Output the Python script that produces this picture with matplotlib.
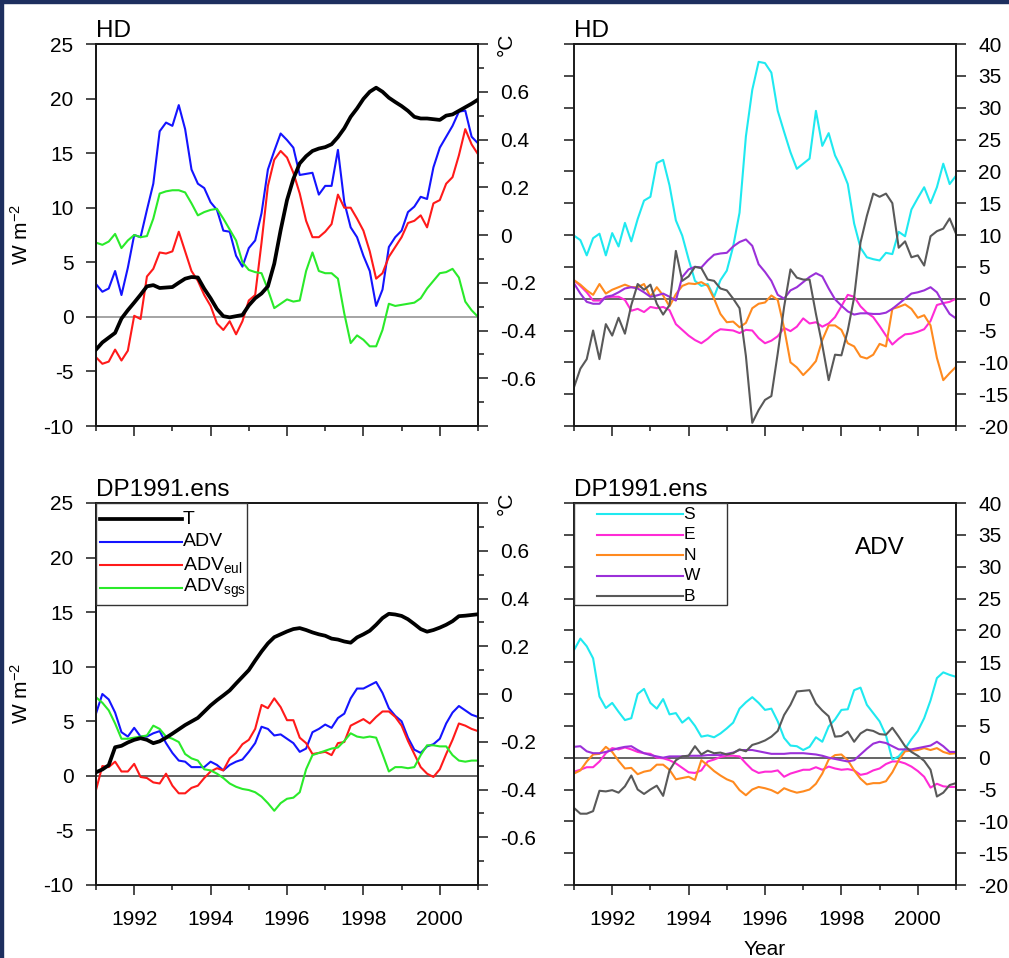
import numpy as np
import matplotlib
matplotlib.use("Agg")
import matplotlib.pyplot as plt
from matplotlib.lines import Line2D
from matplotlib.patches import Rectangle
from matplotlib.ticker import FixedLocator, FixedFormatter, MultipleLocator

plt.rcParams["font.family"] = ["Liberation Sans", "DejaVu Sans"]
plt.rcParams["mathtext.fontset"] = "custom"
plt.rcParams["mathtext.rm"] = "Liberation Sans"
plt.rcParams["mathtext.it"] = "Liberation Sans"
plt.rcParams["axes.unicode_minus"] = False

# ---------------------------------------------------------------------------
# Data: 2-monthly samples, Jan 1991 - Jan 2001
# ---------------------------------------------------------------------------
time = 1991 + np.arange(61) / 6.0

# HD run: heat budget terms (W m-2) and temperature anomaly (degC)
hd_adv = [3.0, 2.3, 2.6, 4.2, 2.0, 4.5, 7.5, 7.3, 9.8, 12.2,
          17.0, 17.8, 17.5, 19.4, 17.2, 13.5, 12.2, 11.8, 10.5, 9.8,
          7.9, 7.8, 5.6, 4.6, 6.3, 7.0, 9.5, 13.5, 15.2, 16.8,
          16.2, 15.5, 13.0, 13.1, 13.2, 11.2, 12.0, 12.0, 15.3, 10.5,
          8.2, 7.3, 5.6, 4.2, 1.0, 2.5, 6.4, 7.3, 7.9, 9.6,
          10.1, 11.0, 10.8, 13.7, 15.5, 16.5, 17.5, 18.8, 18.9, 16.5, 15.9]
hd_eul = [-3.7, -4.3, -4.1, -3.0, -4.0, -3.1, 0.1, -0.2, 3.7, 4.4,
          5.9, 5.8, 6.0, 7.8, 6.0, 4.2, 3.3, 2.0, 1.0, -0.6,
          -1.2, -0.4, -1.6, -0.4, 1.5, 2.0, 6.8, 12.0, 14.4, 15.2,
          14.6, 13.2, 11.3, 8.8, 7.3, 7.3, 7.8, 8.5, 11.2, 10.0,
          10.0, 9.0, 7.9, 6.0, 3.5, 4.0, 5.5, 6.4, 7.3, 8.6,
          8.8, 9.3, 8.2, 10.4, 10.7, 12.2, 12.8, 14.8, 17.2, 15.8, 14.9]
hd_sgs = [6.8, 6.6, 6.9, 7.6, 6.3, 7.0, 7.5, 7.3, 7.4, 9.0,
          11.3, 11.5, 11.6, 11.6, 11.4, 10.4, 9.3, 9.6, 9.8, 9.9,
          9.0, 8.0, 7.0, 5.0, 4.3, 4.1, 4.0, 2.5, 0.8, 1.2,
          1.6, 1.4, 1.5, 4.2, 5.9, 4.2, 4.0, 4.0, 3.5, 0.3,
          -2.4, -1.7, -2.1, -2.7, -2.7, -1.2, 1.2, 1.0, 1.1, 1.2,
          1.3, 1.7, 2.6, 3.3, 4.0, 4.1, 4.4, 3.6, 1.4, 0.6, 0.0]
hd_temp = [-0.48, -0.45, -0.43, -0.41, -0.35, -0.315, -0.283, -0.25, -0.215, -0.21,
           -0.222, -0.22, -0.218, -0.20, -0.183, -0.176, -0.178, -0.225, -0.265, -0.31,
           -0.34, -0.345, -0.34, -0.335, -0.295, -0.265, -0.245, -0.215, -0.12, 0.02,
           0.146, 0.235, 0.30, 0.33, 0.352, 0.362, 0.368, 0.38, 0.41, 0.447,
           0.495, 0.53, 0.57, 0.60, 0.617, 0.60, 0.575, 0.557, 0.54, 0.52,
           0.495, 0.488, 0.488, 0.485, 0.482, 0.50, 0.505, 0.52, 0.535, 0.55, 0.567]

# HD run: advective heat flux through each face of the box (W m-2)
hd_s = [9.9, 9.2, 6.8, 9.5, 10.2, 6.8, 10.3, 8.2, 11.9, 9.0,
        12.5, 15.4, 16.0, 21.3, 21.8, 17.8, 12.3, 9.9, 6.2, 2.8,
        2.0, 2.3, 0.3, 2.9, 4.4, 8.2, 13.5, 25.5, 32.8, 37.2,
        37.0, 35.5, 29.5, 26.2, 23.0, 20.4, 21.2, 22.0, 29.5, 24.0,
        26.0, 22.5, 20.5, 18.0, 11.8, 8.0, 6.5, 6.2, 6.0, 7.2,
        7.0, 10.5, 9.8, 14.0, 15.8, 17.5, 15.0, 17.5, 21.2, 18.0, 19.3]
hd_e = [2.9, 2.0, 1.0, -0.3, -0.3, 0.2, 0.3, 0.3, -0.2, -1.9,
        -1.6, -2.1, -1.3, -1.5, -1.3, -1.8, -4.0, -4.9, -5.8, -6.5,
        -7.0, -6.3, -5.4, -4.8, -4.9, -5.0, -5.4, -4.9, -5.0, -6.2,
        -7.0, -6.6, -5.9, -4.6, -5.1, -4.4, -3.1, -3.9, -3.7, -4.4,
        -3.9, -2.9, -1.2, 0.6, 0.3, -1.2, -2.2, -2.9, -4.3, -5.8,
        -7.2, -6.3, -5.6, -5.5, -5.2, -4.8, -3.5, -1.0, -0.7, -0.5, 0.0]
hd_n = [2.9, 2.2, 1.3, 0.6, 2.3, 0.8, 1.4, 1.8, 2.2, 1.8,
        1.8, 2.3, 0.3, 1.8, 0.5, -1.2, 0.7, 2.0, 2.4, 2.3,
        2.6, 2.0, 0.0, -2.4, -3.7, -3.6, -4.5, -3.8, -1.5, -0.8,
        -0.6, 0.5, -0.2, -4.6, -10.0, -10.8, -12.0, -11.0, -9.8, -6.5,
        -4.2, -4.2, -4.9, -7.0, -7.5, -9.1, -9.4, -8.8, -7.1, -7.5,
        -1.6, -1.3, -0.9, -1.6, -3.0, -2.6, -4.2, -9.3, -12.8, -11.7, -10.7]
hd_w = [2.4, 0.8, -0.5, -0.8, -0.8, 0.3, 0.5, 1.0, 1.6, 1.8,
        1.6, 1.0, 0.3, 0.5, 0.8, 0.3, -0.3, 3.4, 4.6, 5.0,
        4.9, 6.0, 6.9, 7.1, 7.2, 8.2, 8.9, 9.3, 8.3, 5.4,
        4.2, 2.8, 0.6, 0.0, 1.3, 1.8, 2.6, 3.4, 4.0, 3.5,
        1.6, -0.1, -1.1, -2.0, -2.5, -2.3, -2.3, -2.4, -2.4, -2.2,
        -1.6, -0.8, 0.0, 0.8, 1.0, 1.3, 1.8, 1.0, -0.8, -2.4, -3.1]
hd_b = [-13.9, -11.0, -9.5, -5.0, -9.5, -4.0, -5.8, -3.0, -5.5, -1.0,
        2.3, 1.4, 2.2, -0.8, -2.5, -1.0, 7.5, 2.8, 3.5, 5.0,
        4.8, 3.0, 2.8, 1.6, 1.3, 0.0, -1.5, -9.0, -19.5, -17.5,
        -15.9, -15.3, -8.6, -1.3, 4.6, 3.3, 3.0, 3.0, -2.4, -7.3,
        -12.8, -8.8, -8.9, -5.0, 0.2, 8.8, 13.0, 16.5, 16.0, 16.5,
        15.0, 8.0, 9.0, 6.5, 6.8, 5.2, 9.8, 10.6, 11.0, 12.6, 10.2]

# DP1991 ensemble: heat budget terms (W m-2) and temperature anomaly (degC)
dp_adv = [5.7, 7.5, 7.0, 5.8, 4.0, 3.6, 4.4, 3.6, 3.6, 3.9,
          4.1, 3.0, 2.1, 1.4, 1.3, 0.8, 0.8, 0.8, 1.3, 1.0,
          0.5, 1.0, 1.3, 1.5, 2.2, 3.0, 4.5, 4.3, 3.7, 3.8,
          3.4, 3.0, 2.2, 2.5, 4.0, 4.3, 4.7, 4.4, 5.3, 5.7,
          7.1, 8.0, 8.0, 8.3, 8.6, 7.6, 6.2, 5.5, 5.0, 3.5,
          2.4, 2.1, 2.7, 2.9, 3.4, 4.8, 5.8, 6.4, 6.0, 5.6, 5.4]
dp_eul = [-1.3, 0.9, 0.8, 1.3, 0.4, 0.4, 1.1, -0.1, -0.2, -0.6,
          -0.7, 0.2, -0.9, -1.6, -1.6, -1.1, -0.9, -0.2, 0.4, 0.7,
          0.5, 1.6, 2.1, 2.9, 3.3, 4.3, 6.5, 6.2, 7.1, 6.3,
          5.1, 5.1, 3.5, 3.0, 2.0, 2.1, 2.2, 1.9, 3.0, 3.1,
          4.6, 4.9, 5.2, 4.8, 5.4, 5.9, 5.9, 5.4, 4.6, 3.2,
          2.0, 0.8, 0.2, -0.1, 0.6, 2.0, 3.3, 4.8, 4.6, 4.3, 4.1]
dp_sgs = [7.2, 6.7, 6.0, 4.8, 3.4, 3.4, 3.5, 3.6, 3.7, 4.6,
          4.3, 3.6, 3.4, 3.1, 2.0, 1.6, 1.4, 0.6, 0.5, 0.2,
          -0.2, -0.7, -1.0, -1.2, -1.3, -1.5, -1.9, -2.5, -3.2, -2.5,
          -2.1, -2.0, -1.5, 0.6, 1.9, 2.1, 2.3, 2.5, 2.6, 3.2,
          3.9, 3.6, 3.5, 3.6, 3.5, 2.0, 0.4, 0.8, 0.8, 0.7,
          0.8, 1.9, 2.8, 2.8, 2.7, 2.7, 1.9, 1.4, 1.3, 1.4, 1.4]
dp_temp = [-0.328, -0.316, -0.298, -0.223, -0.217, -0.203, -0.192, -0.185, -0.192, -0.206,
           -0.198, -0.183, -0.166, -0.148, -0.13, -0.115, -0.10, -0.074, -0.048, -0.026,
           -0.006, 0.015, 0.044, 0.072, 0.10, 0.14, 0.178, 0.212, 0.238, 0.25,
           0.262, 0.272, 0.276, 0.268, 0.258, 0.25, 0.244, 0.232, 0.228, 0.22,
           0.215, 0.237, 0.25, 0.265, 0.29, 0.318, 0.336, 0.333, 0.327, 0.313,
           0.293, 0.272, 0.261, 0.268, 0.278, 0.29, 0.305, 0.326, 0.328, 0.331, 0.334]

# DP1991 ensemble: advective heat flux through each face (W m-2)
dp_s = [16.9, 18.7, 17.5, 15.6, 9.6, 7.8, 8.6, 7.2, 5.9, 6.2,
        10.0, 10.8, 8.6, 7.7, 9.2, 6.8, 7.0, 5.5, 6.3, 5.0,
        3.3, 3.5, 3.2, 3.8, 4.6, 5.5, 7.7, 8.7, 9.5, 8.6,
        7.5, 7.7, 5.7, 3.1, 1.9, 1.8, 1.2, 1.7, 3.2, 2.5,
        4.9, 6.0, 7.5, 7.6, 10.6, 11.0, 8.3, 7.0, 5.7, 3.5,
        -0.3, 0.2, 1.4, 2.9, 4.2, 6.2, 9.0, 12.5, 13.4, 13.0, 12.7]
dp_e = [-2.2, -1.9, -1.5, -1.5, -0.6, 0.7, 1.5, 1.3, 1.6, 1.3,
        0.9, 0.7, 0.6, 0.0, -0.1, -0.4, -0.9, -1.6, -2.3, -2.4,
        -2.0, -0.6, -0.3, 0.1, 0.3, 0.3, 0.2, -0.9, -1.9, -2.4,
        -2.2, -2.2, -2.0, -3.0, -2.5, -2.2, -1.9, -1.9, -1.5, -1.9,
        -1.4, -1.7, -1.9, -1.8, -2.0, -2.7, -2.5, -2.0, -1.7, -1.0,
        -0.6, -0.6, -0.9, -1.4, -2.1, -3.0, -4.7, -4.1, -4.5, -4.6, -4.6]
dp_n = [-2.5, -2.0, -0.6, 0.5, 0.6, 1.7, 0.9, -0.5, -1.7, -1.6,
        -2.6, -2.2, -2.0, -1.1, -1.1, -1.9, -3.4, -3.2, -3.0, -3.5,
        -0.4, -1.2, -2.1, -2.8, -3.4, -3.8, -5.1, -5.9, -5.0, -4.6,
        -4.8, -5.1, -5.6, -4.8, -5.2, -5.5, -5.3, -5.0, -4.1, -2.5,
        -0.3, 0.4, 0.5, -0.4, -2.0, -3.3, -4.2, -4.0, -4.0, -3.7,
        -2.3, -0.4, 1.0, 1.1, 1.2, 1.5, 1.2, 1.5, 0.9, 0.6, 0.7]
dp_w = [1.7, 1.8, 1.0, 0.7, 0.7, 0.9, 1.2, 1.5, 1.7, 1.8,
        1.2, 0.7, 0.4, 0.2, 0.0, 0.2, 0.2, 0.2, 0.3, 0.3,
        0.3, 0.4, 0.4, 0.4, 0.6, 0.8, 1.2, 1.2, 1.2, 1.0,
        0.8, 0.6, 0.6, 0.6, 0.7, 0.7, 0.7, 0.6, 0.5, 0.3,
        0.0, -0.2, -0.4, -0.6, -0.4, 0.5, 1.4, 2.2, 2.5, 2.3,
        1.8, 1.3, 1.3, 1.3, 1.5, 1.7, 1.9, 2.5, 1.8, 0.9, 0.9]
dp_b = [-7.9, -8.8, -8.8, -8.4, -5.2, -5.3, -5.1, -5.5, -4.5, -2.8,
        -5.0, -5.7, -5.0, -4.4, -6.0, -2.0, -0.4, 0.2, 0.3, 1.8,
        0.5, 1.1, 0.7, 0.8, 0.5, 0.7, 1.3, 1.0, 2.0, 2.3,
        2.7, 3.3, 4.2, 6.7, 8.3, 10.4, 10.5, 10.6, 8.5, 7.4,
        6.5, 3.3, 3.4, 4.1, 2.5, 3.8, 4.4, 4.2, 3.7, 3.6,
        4.7, 3.3, 1.8, 0.9, 0.3, -0.5, -1.9, -6.1, -5.5, -4.3, -4.0]

budget_labels = ["T", "ADV", r"ADV$_{\mathrm{eul}}$", r"ADV$_{\mathrm{sgs}}$"]
face_labels = ["S", "E", "N", "W", "B"]
year_ticks = [1992, 1994, 1996, 1998, 2000]
year_minor = [1991, 1993, 1995, 1997, 1999, 2001]
temp_ticks = [-0.8, -0.6, -0.4, -0.2, 0.0, 0.2, 0.4, 0.6, 0.8]
temp_tick_labels = ["", "-0.6", "-0.4", "-0.2", "0", "0.2", "0.4", "0.6", ""]
temp_minor = [-0.7, -0.5, -0.3, -0.1, 0.1, 0.3, 0.5, 0.7]

# ---------------------------------------------------------------------------
# Styling
# ---------------------------------------------------------------------------
C_T, C_ADV, C_EUL, C_SGS = "black", "#1414ff", "#ff1a1a", "#2aea2a"
C_S, C_E, C_N, C_W, C_B = "#1fe9f0", "#ff2bd6", "#ff8a1f", "#9b30d9", "#595959"
LW = 1.5
LW_T = 2.7
SPINE = "#1a1a1a"
TICK_FS = 15

W_PX, H_PX = 1009, 958
fig = plt.figure(figsize=(W_PX / 100, H_PX / 100), dpi=100)


def rect(x0, y0, x1, y1):
    return [x0 / W_PX, 1 - y1 / H_PX, (x1 - x0) / W_PX, (y1 - y0) / H_PX]


def style_frame(ax):
    for sp in ax.spines.values():
        sp.set_linewidth(1.4)
        sp.set_color(SPINE)


def style_x(ax, labels):
    ax.set_xlim(1991, 2001)
    ax.xaxis.set_major_locator(FixedLocator(year_ticks))
    ax.xaxis.set_minor_locator(FixedLocator(year_minor))
    ax.tick_params(axis="x", which="major", direction="out", length=7.2, width=1.1,
                   pad=11, labelsize=TICK_FS, top=False, labelbottom=labels, color=SPINE)
    ax.tick_params(axis="x", which="minor", direction="out", length=3.6, width=1.1,
                   top=False, color=SPINE)


def budget_panel(ax, title, adv, eul, sgs, temp, zero_color, xlabels):
    style_frame(ax)
    style_x(ax, labels=xlabels)
    ax.set_ylim(-10, 25)
    ax.yaxis.set_major_locator(MultipleLocator(5))
    ax.tick_params(axis="y", which="major", direction="out", length=7.2, width=1.1,
                   pad=9, labelsize=TICK_FS, left=True, right=False, color=SPINE)
    ax.axhline(0, color=zero_color, lw=1.1, zorder=1)
    ax.plot(time, adv, color=C_ADV, lw=LW, zorder=2)
    ax.plot(time, eul, color=C_EUL, lw=LW, zorder=2)
    ax.plot(time, sgs, color=C_SGS, lw=LW, zorder=2)
    ax.set_title(title, loc="left", fontsize=17.5, pad=5)
    ax.text(-0.196, 0.5, r"W m$^{-2}$", transform=ax.transAxes, rotation=90,
            ha="center", va="center", fontsize=15)

    tw = ax.twinx()
    style_frame(tw)
    tw.set_ylim(-0.8, 0.8)
    tw.yaxis.set_major_locator(FixedLocator(temp_ticks))
    tw.yaxis.set_major_formatter(FixedFormatter(temp_tick_labels))
    tw.yaxis.set_minor_locator(FixedLocator(temp_minor))
    tw.tick_params(axis="y", which="major", direction="out", length=7.2, width=1.1,
                   pad=9, labelsize=TICK_FS, color=SPINE)
    tw.tick_params(axis="y", which="minor", direction="out", length=4.3, width=1.1,
                   color=SPINE)
    tw.plot(time, temp, color=C_T, lw=LW_T, zorder=3)
    tw.text(1.073, 1.0, "°C", transform=tw.transAxes, rotation=90,
            ha="center", va="center", fontsize=15)
    return tw


def face_panel(ax, title, s, e, n, w, b, xlabels):
    style_frame(ax)
    style_x(ax, labels=xlabels)
    ax.set_ylim(-20, 40)
    ax.yaxis.set_major_locator(MultipleLocator(5))
    ax.tick_params(axis="y", which="major", direction="out", length=7.2, width=1.1,
                   pad=9, labelsize=TICK_FS, left=True, right=True,
                   labelleft=False, labelright=True, color=SPINE)
    ax.axhline(0, color="#3a3a3a", lw=1.1, zorder=1)
    for series, col in ((s, C_S), (e, C_E), (n, C_N), (w, C_W), (b, C_B)):
        ax.plot(time, series, color=col, lw=LW, zorder=2)
    ax.set_title(title, loc="left", fontsize=17.5, pad=5)


def key_box(ax, width, height, x0, x1, ys, entries, fontsize):
    ax.add_patch(Rectangle((0, 1 - height), width, height, transform=ax.transAxes,
                           facecolor="white", edgecolor="#333333", lw=1.0,
                           zorder=8, clip_on=False))
    for y, (label, col, lw) in zip(ys, entries):
        ax.add_line(Line2D([x0, x1], [y, y], transform=ax.transAxes, color=col,
                           lw=lw, zorder=9))
        ax.text(x1 + 0.002, y, label, transform=ax.transAxes, ha="left",
                va="center", fontsize=fontsize, zorder=10)


# ---------------------------------------------------------------------------
# Panels
# ---------------------------------------------------------------------------
ax_tl = fig.add_axes(rect(96, 44, 478, 426))
ax_tr = fig.add_axes(rect(574, 44, 956, 426))
ax_bl = fig.add_axes(rect(96, 503, 478, 885))
ax_br = fig.add_axes(rect(574, 503, 956, 885))

budget_panel(ax_tl, "HD", hd_adv, hd_eul, hd_sgs, hd_temp,
             zero_color="#8c8c8c", xlabels=False)
tw_bl = budget_panel(ax_bl, "DP1991.ens", dp_adv, dp_eul, dp_sgs, dp_temp,
                     zero_color="#3a3a3a", xlabels=True)
face_panel(ax_tr, "HD", hd_s, hd_e, hd_n, hd_w, hd_b, xlabels=False)
face_panel(ax_br, "DP1991.ens", dp_s, dp_e, dp_n, dp_w, dp_b, xlabels=True)
ax_br.set_xlabel("Year", fontsize=15, labelpad=8)
ax_br.text(0.80, 0.882, "ADV", transform=ax_br.transAxes, ha="center",
           va="center", fontsize=17.5)

key_box(tw_bl, 0.395, 0.267, 0.010, 0.225, [0.958, 0.898, 0.838, 0.777],
        list(zip(budget_labels, [C_T, C_ADV, C_EUL, C_SGS], [LW_T, LW, LW, LW])),
        fontsize=14)
key_box(ax_br, 0.400, 0.267, 0.060, 0.285, [0.970, 0.917, 0.863, 0.809, 0.756],
        list(zip(face_labels, [C_S, C_E, C_N, C_W, C_B], [LW] * 5)),
        fontsize=12.5)

# page frame
navy = "#1d2f5f"
fig.add_artist(Rectangle((0, 0), 3 / W_PX, 1, transform=fig.transFigure,
                         color=navy, zorder=20))
fig.add_artist(Rectangle((0, 1 - 3 / H_PX), 1, 3 / H_PX, transform=fig.transFigure,
                         color=navy, zorder=20))

fig.savefig("out.png", dpi=100)
